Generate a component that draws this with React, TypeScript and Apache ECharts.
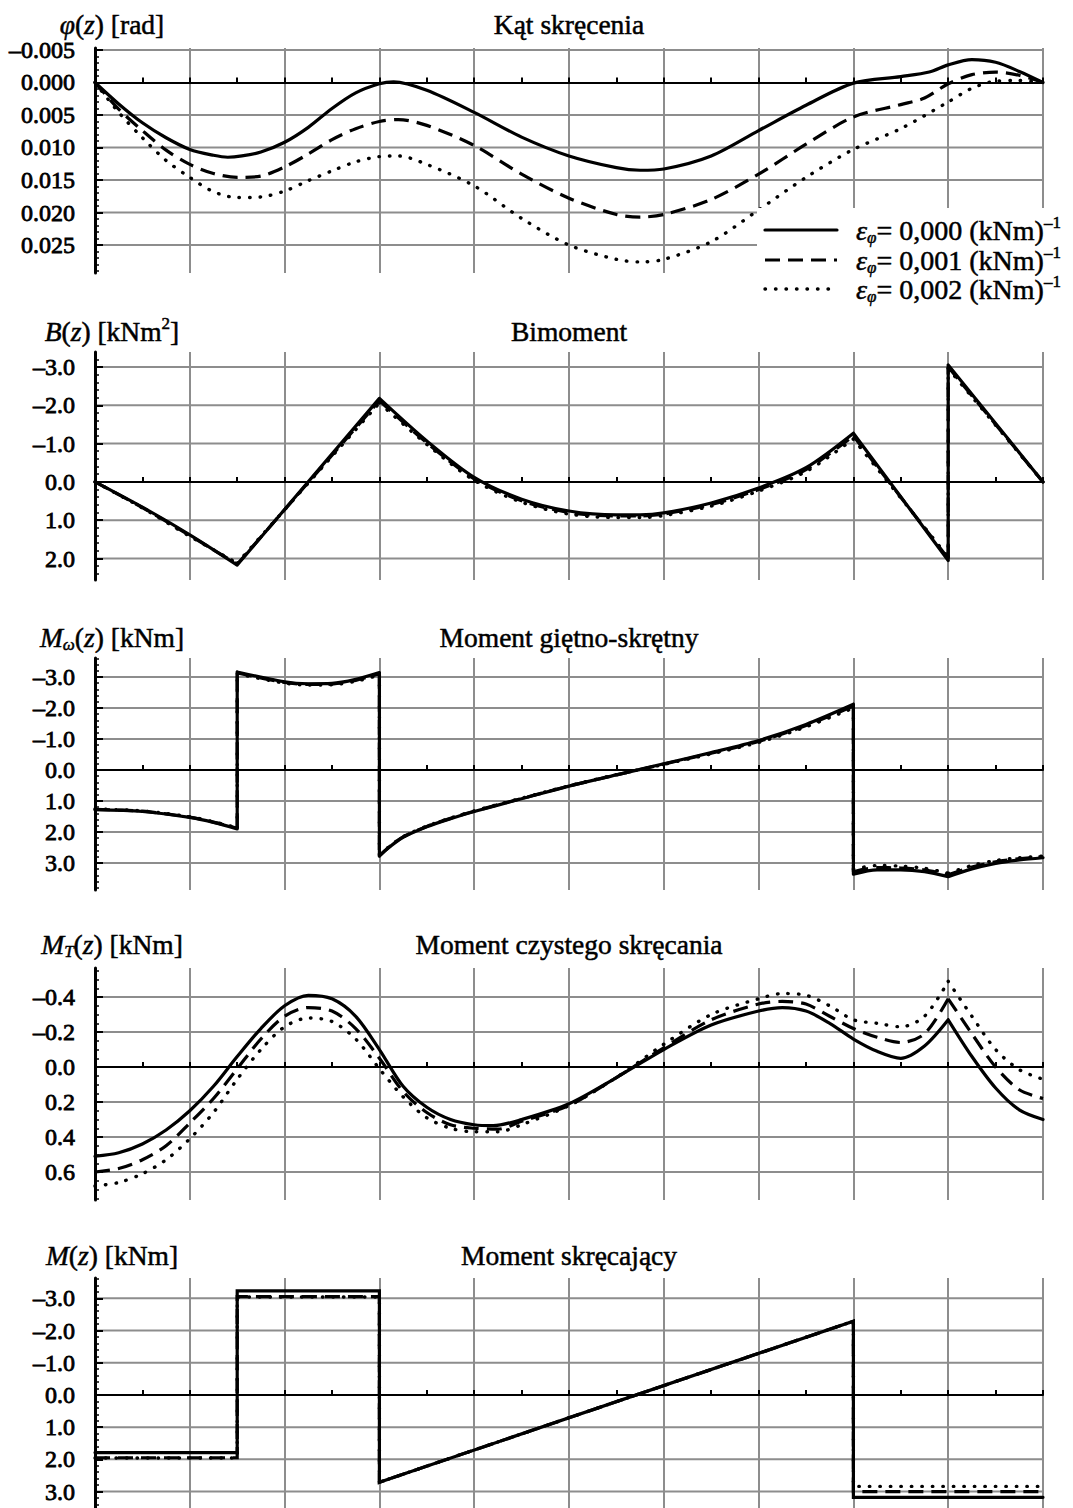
import React, { useEffect, useRef } from "react";
import * as echarts from "echarts";

const FONT = '"Liberation Serif", "Times New Roman", Times, serif';

// ---------- texts ----------
const panelTitles = [
  "Kąt skręcenia",
  "Bimoment",
  "Moment giętno-skrętny",
  "Moment czystego skręcania",
  "Moment skręcający",
];
const epsValues = [0.0, 0.001, 0.002];

// ---------- tick labels ----------
const phiTicks = [-0.005, 0, 0.005, 0.01, 0.015, 0.02, 0.025];
const bTicks = [-3, -2, -1, 0, 1, 2];
const mwTicks = [-3, -2, -1, 0, 1, 2, 3];
const mtTicks = [-0.4, -0.2, 0, 0.2, 0.4, 0.6];
const mTicks = [-3, -2, -1, 0, 1, 2, 3];

type Pt = [number, number] | null;

// ---------- Kąt skręcenia φ(z) ----------
const phiE0: Pt[] = [
  [0, 0], [0.25, 0.0033], [0.5, 0.0062], [0.75, 0.0085], [1, 0.0103], [1.25, 0.0112], [1.4, 0.0115], [1.55, 0.0113],
  [1.75, 0.0107], [2, 0.0092], [2.25, 0.0069], [2.5, 0.004], [2.75, 0.0016], [3, 0.0002], [3.15, -0.0001],
  [3.5, 0.0012], [4, 0.0046], [4.5, 0.0084], [5, 0.0113], [5.5, 0.0131], [5.75, 0.0135], [6, 0.0133],
  [6.5, 0.0113], [7, 0.0074], [7.5, 0.0035], [8, 0.0001], [8.5, -0.0009], [8.8, -0.0016], [9, -0.0027],
  [9.25, -0.0035], [9.5, -0.0031], [9.75, -0.0017], [10, 0],
];
const phiE1: Pt[] = [
  [0, 0], [0.25, 0.0041], [0.5, 0.0074], [0.75, 0.0104], [1, 0.0126], [1.25, 0.014], [1.5, 0.0146],
  [1.75, 0.0144], [2, 0.013], [2.25, 0.011], [2.5, 0.0088], [2.75, 0.0071], [3, 0.006], [3.2, 0.0057],
  [3.5, 0.0066], [4, 0.0097], [4.5, 0.0141], [5, 0.0178], [5.5, 0.0203], [5.75, 0.0207], [6, 0.0203],
  [6.5, 0.018], [7, 0.0141], [7.5, 0.0095], [8, 0.0053], [8.5, 0.0034], [8.75, 0.0024], [9, 0.0002],
  [9.25, -0.0012], [9.5, -0.0016], [9.75, -0.0011], [10, 0],
];
const phiE2: Pt[] = [
  [0, 0], [0.25, 0.0046], [0.5, 0.0085], [0.75, 0.012], [1, 0.0146], [1.25, 0.0168], [1.5, 0.0177],
  [1.75, 0.0176], [2, 0.0167], [2.25, 0.0151], [2.5, 0.0136], [2.75, 0.0122], [3, 0.0114], [3.2, 0.0113],
  [3.5, 0.0126], [4, 0.0159], [4.5, 0.0209], [5, 0.025], [5.5, 0.0272], [5.75, 0.0276], [6, 0.0272],
  [6.5, 0.0245], [7, 0.0196], [7.5, 0.0146], [8, 0.0103], [8.5, 0.0071], [9, 0.003], [9.25, 0.0009],
  [9.5, -0.0002], [9.75, -0.0003], [10, 0],
];

// ---------- Bimoment B(z) ----------
const bE0: Pt[] = [
  [0, 0], [0.5, 0.66], [1, 1.38], [1.5, 2.17], null,
  [1.5, 2.17], [3, -2.18], null,
  [3, -2.18], [3.5, -1.07], [4, -0.12], [4.5, 0.45], [5, 0.76], [5.5, 0.86], [5.75, 0.86], [6, 0.81],
  [6.5, 0.55], [7, 0.16], [7.5, -0.37], [8, -1.27], null,
  [8, -1.27], [9, 2.05], null, [9, 2.05], [9, -3.05], null, [9, -3.05], [10, 0],
];
const bE1: Pt[] = [
  [0, 0], [0.5, 0.67], [1, 1.4], [1.5, 2.15], null,
  [1.5, 2.15], [3, -2.12], null,
  [3, -2.12], [3.5, -1.02], [4, -0.08], [4.5, 0.49], [5, 0.8], [5.5, 0.89], [5.75, 0.89], [6, 0.84],
  [6.5, 0.59], [7, 0.2], [7.5, -0.32], [8, -1.2], null,
  [8, -1.2], [9, 2.0], null, [9, 2.0], [9, -3.0], null, [9, -3.0], [10, 0],
];
const bE2: Pt[] = [
  [0, 0], [0.5, 0.68], [1, 1.42], [1.5, 2.12], null,
  [1.5, 2.12], [3, -2.06], null,
  [3, -2.06], [3.5, -0.98], [4, -0.04], [4.5, 0.53], [5, 0.84], [5.5, 0.93], [5.75, 0.93], [6, 0.88],
  [6.5, 0.63], [7, 0.24], [7.5, -0.27], [8, -1.12], null,
  [8, -1.12], [9, 1.96], null, [9, 1.96], [9, -2.96], null, [9, -2.96], [10, 0],
];

// ---------- Moment giętno-skrętny Mω(z) ----------
const mwE0: Pt[] = [
  [0, 1.28], [0.5, 1.34], [1, 1.53], [1.25, 1.69], [1.5, 1.9], null,
  [1.5, 1.9], [1.5, -3.16], null,
  [1.5, -3.16], [2, -2.84], [2.25, -2.78], [2.5, -2.79], [2.75, -2.92], [3, -3.14], null,
  [3, -3.14], [3, 2.78], null,
  [3, 2.78], [3.1, 2.5], [3.25, 2.17], [3.5, 1.83], [3.75, 1.57], [4, 1.34], [4.5, 0.93], [5, 0.52], [5.5, 0.16], [6, -0.2],
  [6.5, -0.56], [7, -0.95], [7.5, -1.47], [8, -2.12], null,
  [8, -2.12], [8, 3.36], null,
  [8, 3.36], [8.25, 3.22], [8.5, 3.22], [8.75, 3.28], [9, 3.44], null,
  [9, 3.44], [9.25, 3.19], [9.5, 3.01], [9.75, 2.9], [10, 2.83],
];
const mwE1: Pt[] = [
  [0, 1.27], [0.5, 1.33], [1, 1.52], [1.25, 1.68], [1.5, 1.88], null,
  [1.5, 1.88], [1.5, -3.13], null,
  [1.5, -3.13], [2, -2.82], [2.25, -2.76], [2.5, -2.77], [2.75, -2.89], [3, -3.1], null,
  [3, -3.1], [3, 2.76], null,
  [3, 2.76], [3.1, 2.49], [3.25, 2.16], [3.5, 1.82], [3.75, 1.56], [4, 1.33], [4.5, 0.92], [5, 0.52], [5.5, 0.16], [6, -0.19],
  [6.5, -0.54], [7, -0.92], [7.5, -1.43], [8, -2.06], null,
  [8, -2.06], [8, 3.28], null,
  [8, 3.28], [8.25, 3.15], [8.5, 3.16], [8.75, 3.22], [9, 3.38], null,
  [9, 3.38], [9.25, 3.13], [9.5, 2.96], [9.75, 2.86], [10, 2.8],
];
const mwE2: Pt[] = [
  [0, 1.26], [0.5, 1.32], [1, 1.51], [1.25, 1.67], [1.5, 1.86], null,
  [1.5, 1.86], [1.5, -3.1], null,
  [1.5, -3.1], [2, -2.8], [2.25, -2.74], [2.5, -2.75], [2.75, -2.86], [3, -3.06], null,
  [3, -3.06], [3, 2.74], null,
  [3, 2.74], [3.1, 2.48], [3.25, 2.15], [3.5, 1.81], [3.75, 1.55], [4, 1.32], [4.5, 0.91], [5, 0.51], [5.5, 0.15], [6, -0.18],
  [6.5, -0.52], [7, -0.89], [7.5, -1.39], [8, -2.0], null,
  [8, -2.0], [8, 3.2], null,
  [8, 3.2], [8.25, 3.08], [8.5, 3.1], [8.75, 3.17], [9, 3.33], null,
  [9, 3.33], [9.25, 3.08], [9.5, 2.92], [9.75, 2.83], [10, 2.78],
];

// ---------- Moment czystego skręcania MT(z) ----------
const mtE0: Pt[] = [
  [0, 0.51], [0.25, 0.49], [0.5, 0.44], [0.75, 0.36], [1, 0.25], [1.25, 0.11], [1.5, -0.06], [1.75, -0.22],
  [2, -0.35], [2.25, -0.41], [2.5, -0.39], [2.75, -0.29], [3, -0.1], [3.25, 0.11], [3.5, 0.23], [3.75, 0.3],
  [4, 0.33], [4.2, 0.335], [4.5, 0.3], [5, 0.21], [5.5, 0.06], [6, -0.1], [6.5, -0.24], [7, -0.32],
  [7.25, -0.34], [7.5, -0.32], [7.75, -0.25], [8, -0.16], [8.25, -0.09], [8.5, -0.05], [8.75, -0.12],
  [9, -0.27], null,
  [9, -0.27], [9.25, -0.06], [9.5, 0.12], [9.75, 0.245], [10, 0.3],
];
const mtE1: Pt[] = [
  [0, 0.6], [0.25, 0.58], [0.5, 0.53], [0.75, 0.45], [1, 0.32], [1.25, 0.18], [1.5, 0.01], [1.75, -0.16],
  [2, -0.29], [2.25, -0.34], [2.5, -0.32], [2.75, -0.22], [3, -0.05], [3.25, 0.14], [3.5, 0.26], [3.75, 0.33],
  [4, 0.35], [4.25, 0.355], [4.5, 0.31], [5, 0.22], [5.5, 0.06], [6, -0.11], [6.5, -0.27], [7, -0.36],
  [7.25, -0.375], [7.5, -0.36], [7.75, -0.29], [8, -0.22], [8.25, -0.17], [8.5, -0.14], [8.75, -0.19],
  [9, -0.39], null,
  [9, -0.39], [9.25, -0.19], [9.5, 0.0], [9.75, 0.13], [10, 0.18],
];
const mtE2: Pt[] = [
  [0, 0.68], [0.25, 0.66], [0.5, 0.61], [0.75, 0.53], [1, 0.41], [1.25, 0.26], [1.5, 0.07], [1.75, -0.1],
  [2, -0.23], [2.25, -0.28], [2.5, -0.26], [2.75, -0.16], [3, 0.01], [3.25, 0.17], [3.5, 0.29], [3.75, 0.35],
  [4, 0.37], [4.25, 0.37], [4.5, 0.33], [5, 0.22], [5.5, 0.06], [6, -0.13], [6.5, -0.3], [7, -0.39],
  [7.25, -0.42], [7.5, -0.41], [7.75, -0.35], [8, -0.27], [8.25, -0.25], [8.5, -0.23], [8.75, -0.29],
  [9, -0.49], null,
  [9, -0.49], [9.25, -0.29], [9.5, -0.1], [9.75, 0.015], [10, 0.07],
];

// ---------- Moment skręcający M(z) ----------
const mE0: Pt[] = [[0, 1.79], [1.5, 1.79], [1.5, -3.23], [3, -3.23], [3, 2.71], [8, -2.29], [8, 3.18], [10, 3.18]];
const mE1: Pt[] = [[0, 1.95], [1.5, 1.95], [1.5, -3.05], [3, -3.05], [3, 2.71], [8, -2.29], [8, 3.0], [10, 3.0]];
const mE2: Pt[] = [[0, 1.96], [1.5, 1.96], [1.5, -3.04], [3, -3.04], [3, 2.71], [8, -2.29], [8, 2.84], [10, 2.84]];

// ---------- layout config ----------
const X_MIN = 0;
const X_MAX = 10;
const GRID_LEFT = 95;
const GRID_RIGHT = 30;
const GRID_COLOR = "#8d8d8d";
const HEAD_SIZE = 27.5;
const TICK_SIZE = 24;
const LEGEND_SIZE = 28;
const TEXT_STROKE = 0.5;
const TICK_STROKE = 0.8;

const panels = [
  { title: panelTitles[0], label: "{i|φ}{n|(}{i|z}{n|) [rad]}", ticks: phiTicks, digits: 3, min: -0.0053, max: 0.0293, minorStep: 0.001, top: 48, height: 225, lines: [phiE0, phiE1, phiE2], smooth: 0.3, headY: 24 },
  { title: panelTitles[1], label: "{i|B}{n|(}{i|z}{n|) [kNm}{sup|2}{n|]}", ticks: bTicks, digits: 1, min: -3.39, max: 2.56, minorStep: 0.2, top: 352, height: 228, lines: [bE0, bE1, bE2], smooth: 0.3, headY: 331 },
  { title: panelTitles[2], label: "{i|M}{sub|ω}{n|(}{i|z}{n|) [kNm]}", ticks: mwTicks, digits: 1, min: -3.61, max: 3.87, minorStep: 0.2, top: 658, height: 232, lines: [mwE0, mwE1, mwE2], smooth: 0.3, headY: 637 },
  { title: panelTitles[3], label: "{i|M}{sub|T}{n|(}{i|z}{n|) [kNm]}", ticks: mtTicks, digits: 1, min: -0.566, max: 0.76, minorStep: 0.05, top: 968, height: 232, lines: [mtE0, mtE1, mtE2], smooth: 0.3, headY: 944 },
  { title: panelTitles[4], label: "{i|M}{n|(}{i|z}{n|) [kNm]}", ticks: mTicks, digits: 1, min: -3.63, max: 3.51, minorStep: 0.2, top: 1278, height: 230, lines: [mE0, mE1, mE2], smooth: 0, headY: 1255 },
];

const lineKinds = [
  { type: "solid" as any, width: 3.2, cap: "round", z: 5 },
  { type: [15, 8], width: 3.2, cap: "butt", z: 4 },
  { type: [0.5, 10], width: 3.4, cap: "round", z: 3 },
];

function toData(pts: Pt[]) {
  return pts.map((p) => (p === null ? ["-", "-"] : p));
}

function minorValues(min: number, max: number, step: number) {
  const out: number[] = [];
  const k0 = Math.ceil(min / step - 1e-9);
  const k1 = Math.floor(max / step + 1e-9);
  for (let k = k0; k <= k1; k++) out.push(+(k * step).toFixed(6));
  return out;
}

function fmt(d: number) {
  return (v: number) => {
    const a = Math.abs(v) < 1e-12 ? 0 : v;
    return (a < 0 ? "\u2013" : "") + Math.abs(a).toFixed(d);
  };
}

const tok = (size: number, extra: any = {}) => ({
  fontFamily: FONT,
  fontSize: size,
  fill: "#000",
  color: "#000",
  stroke: "#000",
  lineWidth: TEXT_STROKE,
  ...extra,
});

const richBase = (size: number) => ({
  n: tok(size),
  i: tok(size, { fontStyle: "italic" }),
  sub: tok(Math.round(size * 0.6), { fontStyle: "italic", verticalAlign: "bottom", lineHeight: 11 }),
  sup: tok(Math.round(size * 0.6), { verticalAlign: "top", lineHeight: 15 }),
});

function buildOption() {
  const grid: any[] = [];
  const xAxis: any[] = [];
  const yAxis: any[] = [];
  const series: any[] = [];
  const graphic: any[] = [];

  panels.forEach((p, i) => {
    grid.push({ left: GRID_LEFT, right: GRID_RIGHT, top: p.top, height: p.height, containLabel: false });
    xAxis.push({
      gridIndex: i,
      type: "value",
      min: X_MIN,
      max: X_MAX,
      interval: 1,
      axisLine: { show: true, onZero: true, lineStyle: { color: "#000", width: 2 } },
      axisTick: { show: true, inside: true, length: 5, lineStyle: { color: "#000", width: 2 } },
      minorTick: { show: true, splitNumber: 2, length: 5, lineStyle: { color: "#000", width: 2 } },
      axisLabel: { show: false },
      splitLine: { show: true, lineStyle: { color: GRID_COLOR, width: 2 } },
    });
    yAxis.push({
      gridIndex: i,
      type: "value",
      inverse: true,
      min: p.min,
      max: p.max,
      position: "left",
      z: 4,
      axisLine: { show: true, onZero: false, lineStyle: { color: "#000", width: 3 } },
      axisTick: { show: true, inside: true, length: 8, customValues: p.ticks, lineStyle: { color: "#000", width: 2 } },
      axisLabel: {
        show: true,
        customValues: p.ticks,
        formatter: fmt(p.digits),
        margin: 20,
        fontFamily: FONT,
        fontSize: TICK_SIZE,
        color: "#000",
        textBorderColor: "#000",
        textBorderWidth: TICK_STROKE,
      },
      splitLine: { show: false },
    });
    yAxis.push({
      gridIndex: i,
      type: "value",
      inverse: true,
      min: p.min,
      max: p.max,
      position: "left",
      z: 4,
      axisLine: { show: false, onZero: false },
      axisTick: { show: true, inside: true, length: 4, customValues: minorValues(p.min, p.max, p.minorStep), lineStyle: { color: "#000", width: 1.5 } },
      axisLabel: { show: false },
      splitLine: { show: false },
    });

    // horizontal grid lines at the labelled ticks (zero is the black x axis)
    const gl: any[] = [];
    p.ticks.forEach((t) => {
      if (t !== 0) gl.push([X_MIN, t], [X_MAX, t], ["-", "-"]);
    });
    series.push({
      type: "line",
      xAxisIndex: i,
      yAxisIndex: 2 * i,
      data: gl,
      symbol: "none",
      silent: true,
      z: 1,
      lineStyle: { color: GRID_COLOR, width: 2 },
    });

    [2, 1, 0].forEach((k) => {
      const kind = lineKinds[k];
      series.push({
        type: "line",
        xAxisIndex: i,
        yAxisIndex: 2 * i,
        data: toData(p.lines[k]),
        symbol: "none",
        showSymbol: false,
        silent: true,
        smooth: p.smooth,
        connectNulls: false,
        z: kind.z,
        lineStyle: { color: "#000", width: kind.width, type: kind.type, cap: kind.cap, join: "miter" },
      });
    });

    graphic.push({
      type: "text",
      x: 112,
      y: p.headY,
      style: {
        text: p.label,
        rich: richBase(HEAD_SIZE),
        fontFamily: FONT,
        fontSize: HEAD_SIZE,
        lineHeight: 32,
        align: "center",
        verticalAlign: "middle",
        fill: "#000",
      },
    });
    graphic.push({
      type: "text",
      x: 569,
      y: p.headY,
      style: {
        text: p.title,
        fontFamily: FONT,
        fontSize: HEAD_SIZE,
        align: "center",
        verticalAlign: "middle",
        fill: "#000",
        stroke: "#000",
        lineWidth: TEXT_STROKE,
      },
    });
  });

  // legend (drawn over the first panel)
  graphic.push({
    type: "rect",
    z: 100,
    shape: { x: 757, y: 208, width: 316, height: 100 },
    style: { fill: "#fff" },
  });
  const rowY = [230, 260, 289];
  epsValues.forEach((e, k) => {
    const kind = lineKinds[k];
    graphic.push({
      type: "line",
      z: 101,
      shape: { x1: 765, y1: rowY[k], x2: 837, y2: rowY[k] },
      style: {
        stroke: "#000",
        lineWidth: kind.width,
        lineDash: kind.type === "solid" ? null : kind.type,
        lineCap: kind.cap,
      },
    });
    graphic.push({
      type: "text",
      z: 101,
      x: 856,
      y: rowY[k],
      style: {
        text: "{i|ε}{sub|φ}{n|= " + e.toFixed(3).replace(".", ",") + " (kNm)}{sup|\u20131}",
        rich: richBase(LEGEND_SIZE),
        fontFamily: FONT,
        fontSize: LEGEND_SIZE,
        lineHeight: 32,
        align: "left",
        verticalAlign: "middle",
        fill: "#000",
      },
    });
  });

  return {
    animation: false,
    backgroundColor: "#fff",
    grid,
    xAxis,
    yAxis,
    series,
    graphic,
  };
}

export default function App() {
  const ref = useRef<HTMLDivElement>(null);
  useEffect(() => {
    if (!ref.current) return;
    const chart = echarts.init(ref.current, undefined, { renderer: "svg" });
    chart.setOption(buildOption() as any);
    return () => chart.dispose();
  }, []);
  return (
    <div
      ref={ref}
      style={{ position: "absolute", left: 0, top: 0, width: 1073, height: 1508, background: "#fff" }}
    />
  );
}
